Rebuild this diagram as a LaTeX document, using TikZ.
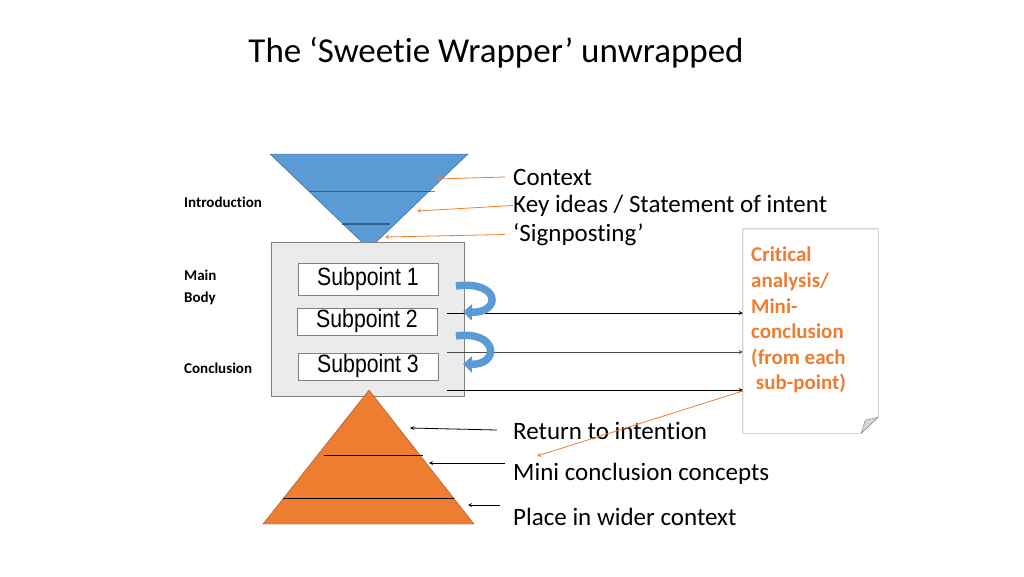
\documentclass[tikz,border=0pt]{standalone}
\usepackage{fontspec}
\setmainfont{Carlito}[RawFeature={-liga;-clig;-dlig}]
\newfontfamily\subfont[FakeStretch=0.85]{Liberation Sans}
\usetikzlibrary{positioning}
\usetikzlibrary{arrows.meta}
\definecolor{wrapblue}{HTML}{5B9BD5}
\definecolor{wrapblueline}{HTML}{2F5F8F}
\definecolor{wraporange}{HTML}{ED7D31}
\definecolor{wraporangeline}{HTML}{9C5020}
\definecolor{boxfill}{HTML}{EBEBEB}
\definecolor{boxgray}{HTML}{808080}

\begin{document}
\begin{tikzpicture}[x=1pt, y=-1pt, >=stealth,
    lbl/.style={anchor=west, inner sep=0pt, font=\fontsize{25}{30}\selectfont},
    side/.style={anchor=west, inner sep=0pt, font=\bfseries\fontsize{15}{22}\selectfont, align=left},
    subbox/.style={draw=boxgray, fill=white, minimum width=140pt, inner sep=0pt, font=\subfont\fontsize{25}{28}\selectfont},
    orangearrow/.style={->, draw=wraporange, line width=0.8pt},
    blackarrow/.style={->, line width=0.8pt},
    curlarrow/.style={-{Triangle[width=16pt,length=9pt]}, draw=wrapblue, line width=7.5pt}]
    \useasboundingbox (0,0) rectangle (1024,576);

    % Title
    \node[font=\fontsize{35}{40}\selectfont] (title) at (496,53) {The ‘Sweetie Wrapper’ unwrapped};

    % Introduction (blue funnel)
    \coordinate (IntroL) at (270,154);
    \coordinate (IntroR) at (468,154);
    \coordinate (IntroTip) at (369,249);
    \draw[wrapblueline, fill=wrapblue] (IntroL) -- (IntroR) -- (IntroTip) -- cycle;
    \draw[wrapblueline, line width=1.2pt] (309,191.5) -- (430,191.5);
    \draw[gray, line width=1.2pt] (430,191.5) -- (435,191.5);
    \draw[wrapblueline, line width=1.2pt] (342,224) -- (390,224);

    % Main body
    \node[draw=boxgray, fill=boxfill, minimum width=193pt, minimum height=154pt] (body) at (367.5,319) {};
    \node[subbox, minimum height=32pt] (sub1) at (368,279) {Subpoint 1};
    \node[subbox, minimum height=27pt] (sub2) at (367,321.5) {Subpoint 2};
    \node[subbox, minimum height=27pt] (sub3) at (368,366.5) {Subpoint 3};

    % Conclusion (orange pyramid)
    \coordinate (ConcTop) at (369,390);
    \coordinate (ConcL) at (263,524);
    \coordinate (ConcR) at (474,524);
    \draw[wraporangeline, fill=wraporange] (ConcTop) -- (ConcR) -- (ConcL) -- cycle;
    \draw[black, line width=0.8pt] (324,455) -- (423,455);
    \draw[black, line width=0.8pt] (283,498) -- (454,498);

    % Left labels
    \node[side] (intro) at (184,202) {Introduction};
    \node[side] (mainbody) at (184,287) {Main\\Body};
    \node[side] (concl) at (184,368) {Conclusion};

    % Right labels
    \node[lbl] (context) at (513,177) {Context};
    \node[lbl] (keyideas) at (513,205.5) {Key ideas / Statement of intent};
    \node[lbl] (signpost) at (513,234.5) {‘Signposting’};
    \node[lbl] (return) at (513,431) {Return to intention};
    \node[lbl] (miniconc) at (513,474) {Mini conclusion concepts};
    \node[lbl] (wider) at (513,517) {Place in wider context};

    % Note page with folded corner
    \node[minimum width=135pt, minimum height=204pt, inner sep=0pt] (note) at (810.5,331) {};
    \draw[boxgray, fill=white] (note.north west) -- (note.north east) -- ([yshift=16pt]note.south east)
        -- ([xshift=-17pt]note.south east) -- (note.south west) -- cycle;
    \draw[boxgray, fill=boxfill!80!gray] ([yshift=16pt]note.south east) -- ([xshift=-17pt]note.south east)
        -- ([xshift=-13pt,yshift=13pt]note.south east) -- cycle;
    \node[anchor=north west, inner sep=0pt, align=left, text=wraporange,
        font=\bfseries\fontsize{21}{25.6}\selectfont] (crit) at (751,247)
        {Critical\\analysis/\\Mini-\\conclusion\\(from each\\\ sub-point)};

    % Arrows into the funnel
    \coordinate (ctxtip) at (436,179);
    \coordinate (keytip) at (417,211);
    \coordinate (sigtip) at (385,237);
    \draw[orangearrow] ([xshift=-8pt]context.west) -- (ctxtip);
    \draw[orangearrow] (keyideas.west) -- (keytip);
    \draw[orangearrow] ([xshift=-8pt]signpost.west) -- (sigtip);

    % Sub-points to the note
    \coordinate (s1) at (447,313);
    \coordinate (s2) at (447,352);
    \coordinate (s3) at (447,390);
    \draw[blackarrow] (s1) -- (s1 -| note.west);
    \draw[blackarrow, draw=black!70] (s2) -- (s2 -| note.west);
    \draw[blackarrow] (s3) -- (s3 -| note.west);

    % Curling arrows between sub-points
    \draw[curlarrow] (456,286) .. controls (500,280) and (502,313) .. (463,312);
    \draw[curlarrow] (456,336) .. controls (498,330) and (500,365) .. (463,364);

    % Note back to the conclusion
    \coordinate (backtip) at (537,456);
    \draw[orangearrow] ([yshift=-1pt]s3 -| note.west) -- (backtip);

    % Arrows into the pyramid
    \coordinate (rettip) at (410,428);
    \coordinate (minitip) at (429,463);
    \coordinate (widetip) at (468,505);
    \draw[blackarrow] ([xshift=-16pt,yshift=1pt]return.west) -- (rettip);
    \draw[blackarrow] ([xshift=-8pt,yshift=11pt]miniconc.west) -- (minitip);
    \draw[blackarrow] ([xshift=-13pt,yshift=12pt]wider.west) -- (widetip);
\end{tikzpicture}
\end{document}
